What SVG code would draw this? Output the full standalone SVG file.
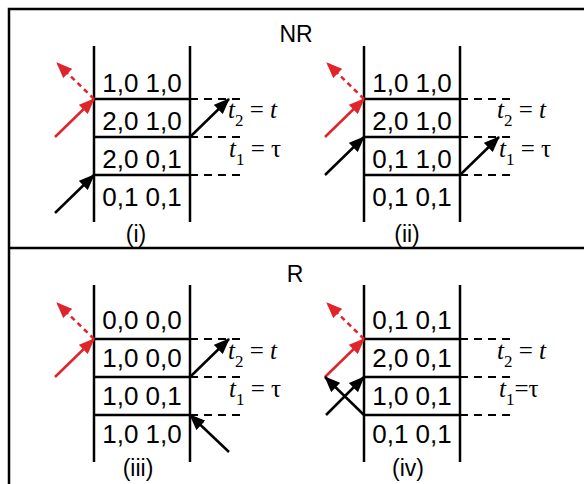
<svg xmlns="http://www.w3.org/2000/svg" width="584" height="484" viewBox="0 0 584 484">
<style>
.frame{fill:none;stroke:#000;stroke-width:2.5}
.wall{stroke:#000;stroke-width:2.5;fill:none}
.dash{stroke:#000;stroke-width:2;stroke-dasharray:8,6;fill:none}
.cell{font-family:"Liberation Sans",Arial,sans-serif;font-size:26px;text-anchor:middle;fill:#000}
.lbl{font-family:"Liberation Sans",Arial,sans-serif;font-size:23px;text-anchor:middle;fill:#000}
.tl{font-family:"Liberation Serif","Times New Roman",serif;font-size:25px;fill:#000}
.tl .it{font-style:italic}
.tl .sub{font-size:17px}
.blk{stroke:#000;stroke-width:2.5;fill:none}
.red{stroke:#e0242a;stroke-width:2.5;fill:none}
.redd{stroke:#e0242a;stroke-width:2.5;fill:none;stroke-dasharray:5,4}
</style>
<defs>
<marker id="ab" markerUnits="userSpaceOnUse" markerWidth="17" markerHeight="13" refX="15" refY="6.5" orient="auto">
<path d="M0,0 L16,6.5 L0,13 z" fill="#000"/>
</marker>
<marker id="ar" markerUnits="userSpaceOnUse" markerWidth="17" markerHeight="13" refX="15" refY="6.5" orient="auto">
<path d="M0,0 L16,6.5 L0,13 z" fill="#e0242a"/>
</marker>
</defs>
<rect width="584" height="484" fill="#fff"/>
<g id="frame">
<rect class="frame" x="9" y="9" width="600" height="500"/>
<line class="frame" x1="9" y1="248" x2="584" y2="248"/>
<text class="lbl" x="296" y="42">NR</text>
<text class="lbl" x="295" y="282">R</text>
</g>
<g id="panel-i">
<line class="wall" x1="94" y1="46" x2="94" y2="222"/>
<line class="wall" x1="190" y1="46" x2="190" y2="222"/>
<line class="wall" x1="94" y1="99" x2="190" y2="99"/>
<line class="wall" x1="94" y1="137" x2="190" y2="137"/>
<line class="wall" x1="94" y1="175" x2="190" y2="175"/>
<line class="dash" x1="190" y1="99" x2="242" y2="99"/>
<line class="dash" x1="190" y1="137" x2="242" y2="137"/>
<line class="dash" x1="190" y1="175" x2="242" y2="175"/>
<text class="cell" x="142" y="92">1,0 1,0</text>
<text class="cell" x="142" y="130">2,0 1,0</text>
<text class="cell" x="142" y="168">2,0 0,1</text>
<text class="cell" x="142" y="206">0,1 0,1</text>
<text class="tl" x="228" y="118"><tspan class="it">t</tspan><tspan class="sub" dy="8">2</tspan><tspan dy="-8"> = </tspan><tspan class="it">t</tspan></text>
<text class="tl" x="229" y="157"><tspan class="it">t</tspan><tspan class="sub" dy="8">1</tspan><tspan dy="-8"> = τ</tspan></text>
<text class="lbl" x="136" y="242">(i)</text>
</g>
<g id="panel-ii">
<line class="wall" x1="364" y1="46" x2="364" y2="222"/>
<line class="wall" x1="460" y1="46" x2="460" y2="222"/>
<line class="wall" x1="364" y1="99" x2="460" y2="99"/>
<line class="wall" x1="364" y1="137" x2="460" y2="137"/>
<line class="wall" x1="364" y1="175" x2="460" y2="175"/>
<line class="dash" x1="460" y1="99" x2="512" y2="99"/>
<line class="dash" x1="460" y1="137" x2="512" y2="137"/>
<line class="dash" x1="460" y1="175" x2="512" y2="175"/>
<text class="cell" x="412" y="92">1,0 1,0</text>
<text class="cell" x="412" y="130">2,0 1,0</text>
<text class="cell" x="412" y="168">0,1 1,0</text>
<text class="cell" x="412" y="206">0,1 0,1</text>
<text class="tl" x="497" y="118"><tspan class="it">t</tspan><tspan class="sub" dy="8">2</tspan><tspan dy="-8"> = </tspan><tspan class="it">t</tspan></text>
<text class="tl" x="499" y="157"><tspan class="it">t</tspan><tspan class="sub" dy="8">1</tspan><tspan dy="-8"> = τ</tspan></text>
<text class="lbl" x="407" y="242">(ii)</text>
</g>
<g id="panel-iii">
<line class="wall" x1="94" y1="285" x2="94" y2="462"/>
<line class="wall" x1="190" y1="285" x2="190" y2="462"/>
<line class="wall" x1="94" y1="339" x2="190" y2="339"/>
<line class="wall" x1="94" y1="377" x2="190" y2="377"/>
<line class="wall" x1="94" y1="415" x2="190" y2="415"/>
<line class="dash" x1="190" y1="339" x2="242" y2="339"/>
<line class="dash" x1="190" y1="377" x2="242" y2="377"/>
<line class="dash" x1="190" y1="415" x2="242" y2="415"/>
<text class="cell" x="142" y="329">0,0 0,0</text>
<text class="cell" x="142" y="367">1,0 0,0</text>
<text class="cell" x="142" y="405">1,0 0,1</text>
<text class="cell" x="142" y="443">1,0 1,0</text>
<text class="tl" x="228" y="359"><tspan class="it">t</tspan><tspan class="sub" dy="8">2</tspan><tspan dy="-8"> = </tspan><tspan class="it">t</tspan></text>
<text class="tl" x="229" y="397"><tspan class="it">t</tspan><tspan class="sub" dy="8">1</tspan><tspan dy="-8"> = τ</tspan></text>
<text class="lbl" x="138" y="476">(iii)</text>
</g>
<g id="panel-iv">
<line class="wall" x1="364" y1="285" x2="364" y2="462"/>
<line class="wall" x1="460" y1="285" x2="460" y2="462"/>
<line class="wall" x1="364" y1="339" x2="460" y2="339"/>
<line class="wall" x1="364" y1="377" x2="460" y2="377"/>
<line class="wall" x1="364" y1="415" x2="460" y2="415"/>
<line class="dash" x1="460" y1="339" x2="512" y2="339"/>
<line class="dash" x1="460" y1="377" x2="512" y2="377"/>
<line class="dash" x1="460" y1="415" x2="512" y2="415"/>
<text class="cell" x="412" y="329">0,1 0,1</text>
<text class="cell" x="412" y="367">2,0 0,1</text>
<text class="cell" x="412" y="405">1,0 0,1</text>
<text class="cell" x="412" y="443">0,1 0,1</text>
<text class="tl" x="497" y="359"><tspan class="it">t</tspan><tspan class="sub" dy="8">2</tspan><tspan dy="-8"> = </tspan><tspan class="it">t</tspan></text>
<text class="tl" x="499" y="397"><tspan class="it">t</tspan><tspan class="sub" dy="8">1</tspan><tspan dy="-8">=τ</tspan></text>
<text class="lbl" x="408" y="476">(iv)</text>
</g>
<g id="connectors">
<line class="red" x1="55" y1="137" x2="94" y2="99" marker-end="url(#ar)"/>
<line class="redd" x1="94" y1="99" x2="57" y2="63" marker-end="url(#ar)"/>
<line class="blk" x1="55" y1="213" x2="94" y2="175" marker-end="url(#ab)"/>
<line class="blk" x1="190" y1="137" x2="229" y2="99" marker-end="url(#ab)"/>

<line class="red" x1="325" y1="137" x2="364" y2="99" marker-end="url(#ar)"/>
<line class="redd" x1="364" y1="99" x2="327" y2="63" marker-end="url(#ar)"/>
<line class="blk" x1="325" y1="175" x2="364" y2="137" marker-end="url(#ab)"/>
<line class="blk" x1="460" y1="175" x2="499" y2="137" marker-end="url(#ab)"/>

<line class="red" x1="55" y1="377" x2="94" y2="339" marker-end="url(#ar)"/>
<line class="redd" x1="94" y1="339" x2="57" y2="303" marker-end="url(#ar)"/>
<line class="blk" x1="190" y1="377" x2="229" y2="339" marker-end="url(#ab)"/>
<line class="blk" x1="229" y1="452" x2="190" y2="415" marker-end="url(#ab)"/>

<line class="red" x1="325" y1="377" x2="364" y2="339" marker-end="url(#ar)"/>
<line class="redd" x1="364" y1="339" x2="327" y2="303" marker-end="url(#ar)"/>
<line class="blk" x1="326" y1="415" x2="364" y2="377" marker-end="url(#ab)"/>
<line class="blk" x1="364" y1="415" x2="325" y2="377" marker-end="url(#ab)"/>
</g>
</svg>
